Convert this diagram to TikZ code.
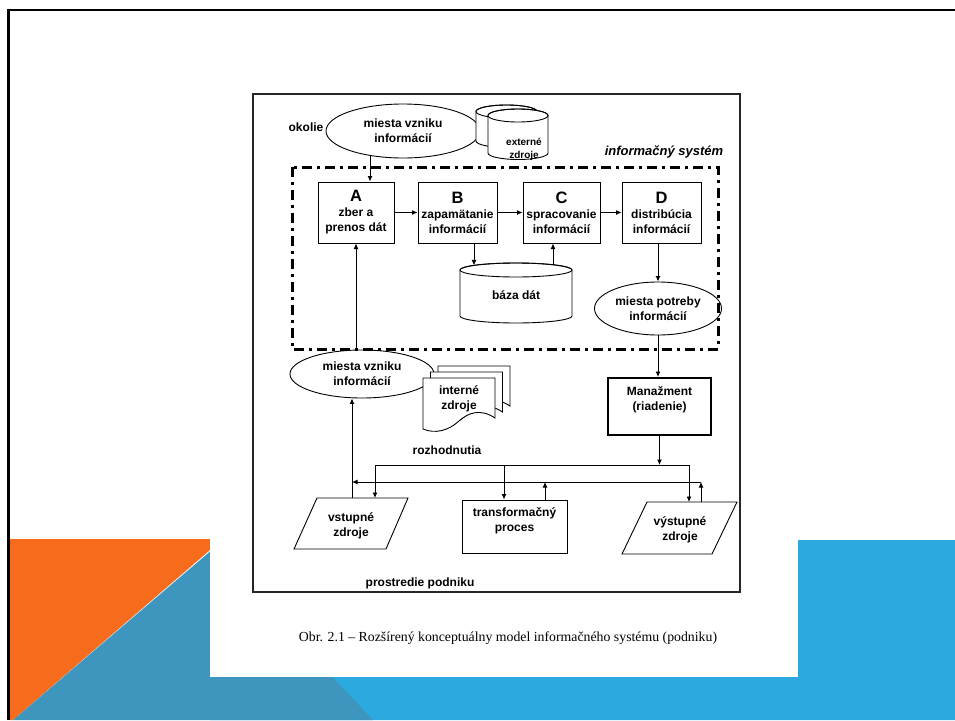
\documentclass[tikz,border=0pt]{standalone}
\usepackage{fontspec}
\setmainfont{Liberation Sans}
\newfontfamily\capfont{Liberation Serif}
\usetikzlibrary{shapes.geometric,arrows.meta,calc}
\pgfdeclarelayer{base}
\pgfdeclarelayer{bg}
\pgfsetlayers{base,bg,main}
\definecolor{orng}{RGB}{246,108,28}
\definecolor{dblue}{RGB}{62,150,190}
\definecolor{lblue}{RGB}{44,170,224}
\newcommand\drawcyl[5]{%
  \filldraw[fill=white,line width=0.9pt] ({#1-#2},#3) -- ({#1-#2},#4)
    arc[start angle=180,end angle=0,x radius=#2,y radius=#5]
    -- ({#1+#2},#3) arc[start angle=0,end angle=-180,x radius=#2,y radius=#5] -- cycle;
  \draw[line width=0.9pt] (#1,#3) ellipse[x radius=#2,y radius=#5];}
\newcommand\drawdoc[2]{%
  \filldraw[fill=white,line width=0.9pt] ({423+#1},{378+#2}) -- ({495+#1},{378+#2}) -- ({495+#1},{418+#2})
    .. controls ({480+#1},{408+#2}) and ({468+#1},{413+#2}) .. ({459+#1},{421+#2})
    .. controls ({448+#1},{431+#2}) and ({435+#1},{434+#2}) .. ({423+#1},{429+#2}) -- cycle;}
\begin{document}
\begin{tikzpicture}[x=1pt,y=-1pt,
  lbl/.style={font=\bfseries\fontsize{12}{15}\selectfont, align=center, inner sep=0pt},
  procbox/.style={draw, line width=1pt, fill=white, minimum height=61pt, inner sep=0pt,
    align=center, font=\bfseries\fontsize{12}{15}\selectfont},
  ell/.style={ellipse, draw, line width=0.9pt, fill=white, inner sep=0pt, align=center,
    font=\bfseries\fontsize{12}{15}\selectfont},
  arr/.style={-{Latex[length=5.5pt,width=5pt]}, line width=0.9pt},
  ln/.style={line width=0.9pt}]
\begin{pgfonlayer}{base}
\path[use as bounding box, fill=white] (0,0) rectangle (955,720);
\fill[lblue] (798,540) -- (955,540) -- (955,720) -- (210,720) -- (210,677) -- (798,677) -- cycle;
\fill[dblue] (213,549) -- (373,720) -- (13,720) -- cycle;
\fill[orng] (10,539) -- (210,539) -- (210,550) -- (13,720) -- (10,720) -- cycle;
\fill[white] (210,520) rectangle (798,677);
\draw[line width=2.6pt] (8.6,720) -- (8.6,10) -- (955,10);
\end{pgfonlayer}

% figure frame
\draw[line width=1.3pt, black!85] (253,94) rectangle (740,592);

% top region
\node[lbl] (okolie) at (306,127) {okolie};
\node[ell, minimum width=154pt, minimum height=54pt] (ell1) at (403,131) {miesta vzniku\\informácií};
\drawcyl{506.5}{30.5}{111.5}{141}{6.5}
\drawcyl{518}{30}{115.5}{153}{6.5}
\node[lbl, font=\bfseries\fontsize{10}{13}\selectfont] (ext) at (524,149) {externé\\zdroje};
\node[font=\bfseries\itshape\fontsize{13}{15}\selectfont, inner sep=0pt] (is) at (664,152) {informačný systém};

% process boxes
\node[procbox, minimum width=76pt] (A) at (356,212.5) {{\fontsize{16.5}{15}\selectfont A}\\zber a\\prenos dát};
\node[procbox, minimum width=79pt] (B) at (457.5,212.5) {{\fontsize{16.5}{15}\selectfont B}\\zapamätanie\\informácií};
\node[procbox, minimum width=77pt] (C) at (561.5,212.5) {{\fontsize{16.5}{15}\selectfont C}\\spracovanie\\informácií};
\node[procbox, minimum width=79pt] (D) at (661.5,212.5) {{\fontsize{16.5}{15}\selectfont D}\\distribúcia\\informácií};

% database
\drawcyl{516}{56}{270}{316}{7}
\node[lbl] (db) at (516,295) {báza dát};
\coordinate (dbB) at (474,265.4);
\coordinate (dbC) at (553,264.7);

\node[ell, minimum width=127pt, minimum height=53pt] (ell3) at (658,308.5) {miesta potreby\\informácií};

% lower region
\node[ell, minimum width=144pt, minimum height=48pt] (ell2) at (362,374) {miesta vzniku\\informácií};
\drawdoc{15}{-12}
\drawdoc{7.5}{-6}
\drawdoc{0}{0}
\node[lbl] (int) at (459,399) {interné\\zdroje};

\node[draw, line width=2pt, fill=white, minimum width=103pt, minimum height=57pt, inner sep=0pt] (man) at (659.5,406.5) {};
\node[lbl] (mant) at (659.5,400) {Manažment\\(riadenie)};

\node[lbl] (roz) at (447,450) {rozhodnutia};

\filldraw[fill=white, line width=0.9pt] (317,498) -- (408,498) -- (386,549) -- (294,549) -- cycle;
\node[lbl] (vs) at (351,526) {vstupné\\zdroje};
\node[draw, line width=1pt, fill=white, minimum width=105pt, minimum height=53pt, inner sep=0pt] (tp) at (514.5,526.5) {};
\node[lbl] (tpt) at (514.5,520.5) {transformačný\\proces};
\filldraw[fill=white, line width=0.9pt] (647,502) -- (737,502) -- (712,554) -- (622,554) -- cycle;
\node[lbl] (vy) at (680,530) {výstupné\\zdroje};

\node[lbl] (pp) at (420,583) {prostredie podniku};

\coordinate (vsT1) at (375,498);
\coordinate (vsT2) at (352,498);
\coordinate (vyT1) at (689,502);
\coordinate (vyT2) at (701,502);
\coordinate (h1L) at (375,465);
\coordinate (h1R) at (689,465);
\coordinate (h2R) at (701,482);
\coordinate (h2L) at (352,482);

% dash-dot system boundary
\draw[line width=3pt, dash pattern=on 10pt off 5pt on 3pt off 5pt] (292,167) rectangle (718,349);

% connectors
\begin{pgfonlayer}{bg}
\draw[arr] ([xshift=14pt]A.north |- ell1.center) -- ([xshift=14pt]A.north);
\draw[arr] (A.south |- ell2.center) -- (A.south);
\end{pgfonlayer}
\draw[arr] (A.east) -- (B.west);
\draw[arr] (B.east) -- (C.west);
\draw[arr] (C.east) -- (D.west);
\draw[arr] ([xshift=16.5pt]B.south) -- (dbB);
\draw[arr] (dbC) -- ([xshift=-8.5pt]C.south);
\draw[arr] (D.south -| ell3.north) -- (ell3.north);
\draw[arr] (ell3.south) -- (ell3.south |- man.north);
\draw[arr] (man.south) -- (man.south |- h1L);
\draw[ln] (h1L) -- (h1R);
\draw[arr] (h1L) -- (vsT1);
\draw[arr] (h1R) -- (vyT1);
\draw[arr] ([xshift=-10.5pt]tp.north |- h1L) -- ([xshift=-10.5pt]tp.north);
\draw[arr] ([xshift=30.5pt]tp.north) -- ([xshift=30.5pt]tp.north |- h2R);
\draw[arr] (vyT2) -- (h2R);
\draw[arr] (h2R) -- (h2L);
\draw[arr] (vsT2) -- ([xshift=-10pt]ell2.south);

% caption
\node[font=\capfont\fontsize{13.8}{15}\selectfont, inner sep=0pt] (cap) at (508,638) {Obr. 2.1 – Rozšírený konceptuálny model informačného systému (podniku)};
\end{tikzpicture}
\end{document}
